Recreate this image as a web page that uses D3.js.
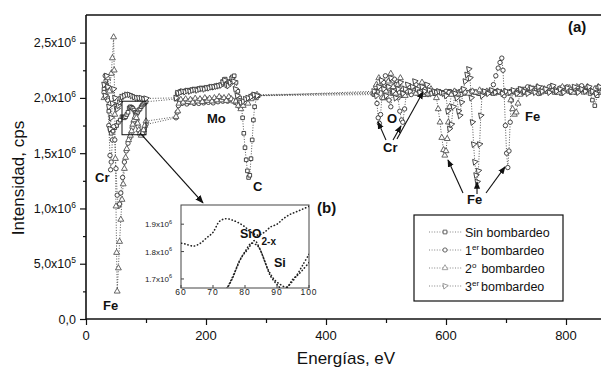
<!DOCTYPE html>
<html><head><meta charset="utf-8">
<script src="https://cdn.jsdelivr.net/npm/d3@7"></script>
<style>body{margin:0;background:#fff}svg text{font-family:"Liberation Sans",Arial,sans-serif}</style>
</head><body><svg id="c" width="601" height="368"></svg>
<script>
// Intensities in units of 10^6 cps, energies in eV
const seriesNames = ["Sin bombardeo","1er bombardeo","2o bombardeo","3er bombardeo"];
const sinBombardeo = [
[30,2.08],[33,2.15],[36,2.0],[38,1.88],[40,1.72],[42,1.68],[45,1.7],[48,1.73],[51,1.75],[54,1.78],[57,1.8],[60,1.83],[62,1.825],[64,1.82],[66,1.83],[68,1.85],[70,1.87],[72,1.91],[74,1.92],[76,1.915],[78,1.905],[80,1.89],[82,1.87],[84,1.86],[86,1.87],[88,1.89],[90,1.9],[92,1.92],[94,1.935],[96,1.945],[98,1.955],[100,1.965],
[150,1.99],[152,2.04],[155,2.05],[158,2.06],[162,2.055],[166,2.065],[170,2.07],[174,2.065],[178,2.075],[182,2.08],[186,2.075],[190,2.085],[194,2.09],[198,2.085],[202,2.095],[206,2.1],[210,2.095],[214,2.105],[218,2.11],[222,2.11],[226,2.12],[229,2.15],[232,2.17],[235,2.13],[238,2.12],[241,2.15],[244,2.19],[247,2.2],[250,2.14],[253,2.06],[256,2.0],[259,1.93],[261,1.82],[263,1.68],[265,1.55],[267,1.44],[269,1.34],[271,1.28],[273,1.3],[275,1.45],[277,1.62],[279,1.8],[281,1.92],[284,2.0],[287,2.02],
[480,2.03],[486,2.06],[492,2.1],[498,2.0],[504,2.08],[510,2.04],[516,2.12],[522,2.05],[528,2.02],[534,2.07],[540,2.05],[546,2.09],[552,2.04],[558,2.06],[564,2.03],[570,2.07],[576,2.05],[582,2.04],[588,2.06],[594,2.05],[600,2.04],[606,2.06],[612,2.05],[618,2.05],[624,2.06],[630,2.04],[636,2.05],[642,2.06],[648,2.05],[654,2.04],[660,2.05],[666,2.06],[672,2.05],[678,2.04],[684,2.06],[690,2.05],[696,2.04],[702,2.05],[708,2.06],[714,2.05],[720,2.07],[726,2.04],[732,2.08],[738,2.05],[744,2.09],[750,2.06],[756,2.04],[762,2.08],[768,2.06],[774,2.1],[780,2.05],[786,2.07],[792,2.04],[798,2.09],[804,2.06],[810,2.08],[816,2.05],[822,2.1],[828,2.07],[834,2.09],[840,2.04],[844,1.98],[848,1.93],[852,2.02],[856,2.08],[862,2.06]];
const primerBombardeo = [
[30,2.05],[32,2.2],[34,2.12],[36,1.98],[38,1.75],[40,1.48],[41,1.35],[42,1.42],[44,1.62],[46,1.74],[48,1.62],[50,1.36],[52,1.12],[54,1.02],[56,1.04],[58,1.14],[61,1.28],[64,1.42],[67,1.52],[70,1.59],[73,1.64],[75,1.68],[77,1.73],[79,1.78],[81,1.81],[83,1.84],[85,1.8],[87,1.74],[89,1.7],[91,1.68],[93,1.67],[95,1.7],[97,1.72],[100,1.76],
[150,1.82],[152,1.87],[154,1.93],[156,1.97],[160,1.95],[164,1.975],[168,1.945],[172,1.96],[176,1.98],[180,1.95],[184,1.97],[188,1.95],[192,1.98],[196,1.955],[200,1.99],[204,1.96],[208,1.98],[212,1.955],[216,1.99],[220,1.965],[224,2.0],[228,1.97],[232,1.99],[236,1.97],[240,2.0],[244,1.98],[248,1.96],[252,1.95],[256,1.92],[260,1.94],[264,1.96],[268,1.98],[272,2.0],[276,2.02],[280,2.03],[285,2.02],
[480,2.05],[483,2.1],[485,1.95],[487,1.82],[489,1.77],[491,1.85],[493,2.0],[496,2.14],[499,2.2],[502,2.1],[505,1.98],[508,1.92],[511,2.05],[514,2.17],[517,2.12],[520,2.0],[523,1.88],[526,1.8],[528,1.78],[531,1.9],[534,2.05],[538,2.1],[542,2.03],[546,2.07],[550,2.12],[554,2.04],[558,2.06],[562,2.1],[566,2.05],[570,2.03],[575,2.06],[580,2.04],[585,2.06],[590,2.05],[595,2.04],[600,2.06],[605,2.05],[610,2.04],[615,2.06],[620,2.05],[625,2.03],[630,2.06],[635,2.05],[640,2.04],[645,2.06],[650,2.05],[655,2.04],[660,2.06],[665,2.05],[670,2.06],[675,2.06],[679,2.12],[683,2.2],[687,2.27],[690,2.32],[693,2.36],[695,2.25],[697,2.02],[699,1.75],[701,1.5],[703,1.37],[705,1.52],[707,1.78],[709,1.98],[712,2.06],[718,2.05],[724,2.08],[730,2.05],[736,2.1],[742,2.06],[748,2.08],[754,2.04],[760,2.09],[766,2.06],[772,2.1],[778,2.07],[784,2.05],[790,2.09],[796,2.06],[802,2.1],[808,2.05],[814,2.08],[820,2.06],[826,2.11],[832,2.06],[838,2.08],[844,2.05],[850,2.09],[856,2.05],[862,2.08]];
const segundoBombardeo = [
[30,2.0],[33,2.12],[36,2.18],[39,2.06],[42,2.22],[44,2.36],[46,2.55],[47,2.25],[48,1.85],[49,1.45],[50,1.02],[51,0.6],[52,0.25],[54,0.46],[56,0.7],[58,0.9],[60,1.08],[62,1.22],[64,1.36],[66,1.46],[68,1.54],[71,1.62],[74,1.66],[76,1.7],[78,1.76],[80,1.8],[82,1.83],[84,1.82],[86,1.77],[88,1.71],[90,1.68],[92,1.66],[94,1.68],[96,1.71],[98,1.75],[100,1.79],
[150,1.83],[153,1.88],[155,1.95],[158,1.985],[162,1.96],[166,1.99],[170,1.965],[174,1.985],[178,1.96],[182,1.995],[186,1.97],[190,1.99],[194,1.965],[198,2.0],[202,1.975],[206,1.995],[210,1.97],[214,2.0],[218,1.98],[222,2.01],[226,1.98],[230,2.0],[234,1.975],[238,2.01],[242,1.99],[246,1.97],[250,1.97],[254,1.93],[258,1.9],[262,1.93],[266,1.96],[270,1.95],[275,1.99],[280,2.02],[285,2.03],
[480,2.04],[484,2.12],[488,2.18],[492,2.08],[496,2.0],[500,2.06],[504,2.15],[508,2.22],[512,2.1],[516,2.04],[520,2.12],[524,2.18],[528,2.08],[532,2.02],[536,2.06],[540,2.1],[545,2.06],[550,2.04],[555,2.1],[560,2.14],[565,2.08],[570,2.04],[575,2.08],[580,2.05],[584,2.0],[587,1.9],[590,1.78],[593,1.64],[596,1.53],[598,1.48],[600,1.52],[602,1.63],[604,1.78],[606,1.92],[609,2.03],[614,2.06],[620,2.04],[626,2.07],[632,2.05],[638,2.04],[644,2.06],[650,2.05],[656,2.07],[662,2.04],[668,2.06],[674,2.05],[680,2.04],[686,2.06],[692,2.05],[698,2.06],[704,2.04],[708,1.98],[711,1.9],[714,1.85],[717,1.87],[720,1.95],[723,2.03],[728,2.07],[734,2.05],[740,2.09],[746,2.06],[752,2.1],[758,2.05],[764,2.08],[770,2.06],[776,2.1],[782,2.07],[788,2.05],[794,2.1],[800,2.07],[806,2.09],[812,2.05],[818,2.1],[824,2.07],[830,2.05],[836,2.1],[842,2.06],[848,2.08],[854,2.1],[860,2.06]];
const tercerBombardeo = [
[30,2.12],[32,2.02],[34,2.2],[36,2.1],[38,1.92],[40,1.72],[42,1.82],[44,1.95],[46,2.08],[48,2.0],[50,1.92],[52,1.9],[54,1.93],[56,1.96],[58,1.99],[60,2.01],[64,2.02],[68,2.03],[72,2.03],[76,2.02],[80,2.01],[84,2.0],[88,2.0],[92,2.0],[96,1.99],[100,1.995],
[150,2.0],[153,2.045],[157,2.05],[161,2.06],[165,2.055],[169,2.065],[173,2.06],[177,2.07],[181,2.075],[185,2.07],[189,2.08],[193,2.085],[197,2.08],[201,2.09],[205,2.09],[209,2.1],[213,2.1],[217,2.105],[221,2.11],[225,2.115],[228,2.14],[231,2.16],[234,2.12],[237,2.11],[240,2.14],[243,2.17],[246,2.15],[249,2.08],[252,2.02],[255,1.98],[258,1.96],[262,1.97],[266,1.99],[270,2.0],[275,2.01],[280,2.03],[285,2.02],
[480,2.06],[484,2.02],[488,2.1],[492,2.16],[496,2.08],[500,2.02],[504,2.1],[508,2.18],[512,2.06],[516,2.0],[520,2.08],[524,2.14],[528,2.04],[532,2.08],[536,2.12],[540,2.06],[544,2.1],[548,2.15],[552,2.08],[556,2.05],[560,2.1],[564,2.06],[568,2.12],[572,2.07],[576,2.04],[580,2.06],[584,2.05],[588,2.06],[592,2.05],[596,2.04],[600,2.02],[603,1.88],[606,1.72],[609,1.76],[612,1.92],[615,2.04],[618,2.0],[621,1.88],[623,1.84],[626,1.96],[629,2.08],[632,2.15],[635,2.21],[638,2.26],[640,2.18],[642,2.0],[644,1.78],[646,1.58],[648,1.42],[650,1.3],[652,1.24],[654,1.34],[656,1.58],[658,1.84],[660,2.02],[664,2.06],[670,2.04],[676,2.07],[682,2.05],[688,2.06],[694,2.04],[700,2.06],[706,2.05],[712,2.07],[718,2.04],[724,2.08],[730,2.06],[736,2.04],[742,2.09],[748,2.05],[754,2.1],[760,2.06],[766,2.08],[772,2.05],[778,2.11],[784,2.06],[790,2.08],[796,2.05],[802,2.09],[808,2.06],[814,2.1],[820,2.05],[826,2.08],[832,2.06],[838,2.1],[844,2.06],[850,2.04],[856,2.1],[862,2.07]];

const xTickValues = [0,200,400,600,800];
const xMinorTicks = [100,300,500,700];
const yTickValues = [0,0.5,1.0,1.5,2.0,2.5];
const yTickMantissa = ["0,0","5,0x10","1,0x10","1,5x10","2,0x10","2,5x10"];
const yTickExponent = ["","5","6","6","6","6"];
const yMinorTicks = [0.25,0.75,1.25,1.75,2.25];
const insetXTicks = [60,70,80,90,100];
const insetYTicks = [1.7,1.8,1.9];
const insetYLabels = ["1.7x10","1.8x10","1.9x10"];
const annotations = [
 {t:"Cr",e:15,i:1.24},{t:"Fe",e:28.3,i:0.08},{t:"Mo",e:201.7,i:1.774},{t:"C",e:278.3,i:1.158},
 {t:"O",e:501.7,i:1.774},{t:"Cr",e:495,i:1.511},{t:"Fe",e:635,i:1.041},{t:"Fe",e:731.7,i:1.792}];
const arrows = [
 [500,1.62,486.7,1.783],[511.7,1.62,525,1.747],[518.3,1.629,561.7,2.054],
 [628.3,1.14,603.3,1.439],[651.7,1.131,651.7,1.24],[666.7,1.14,698.3,1.376]];

const svg = d3.select("#c");
const x = d3.scaleLinear().domain([0,800]).range([86,566]);
const y = d3.scaleLinear().domain([0,2.75]).range([319,15]);

svg.append("defs").html(
 '<clipPath id="plotclip"><rect x="86" y="15" width="515" height="304"/></clipPath>'+
 '<clipPath id="insetclip"><rect x="181" y="205" width="128" height="83"/></clipPath>'+
 '<marker id="ah" viewBox="0 0 10 10" refX="9" refY="5" markerWidth="7" markerHeight="7" orient="auto"><path d="M0,1L10,5L0,9z" fill="#111"/></marker>');

// axes
const gx = svg.append("g").attr("transform","translate(0,319)")
  .call(d3.axisBottom(x).tickValues(xTickValues).tickSize(6).tickSizeOuter(0).tickFormat(""));
gx.select(".domain").remove();
svg.append("g").attr("transform","translate(0,319)")
  .call(d3.axisBottom(x).tickValues(xMinorTicks).tickSize(4).tickSizeOuter(0).tickFormat(""))
  .select(".domain").remove();
svg.append("line").attr("x1",86).attr("x2",601).attr("y1",319).attr("y2",319).attr("stroke","#111").attr("stroke-width",1.6);
svg.append("line").attr("x1",86).attr("x2",601).attr("y1",15).attr("y2",15).attr("stroke","#111").attr("stroke-width",1.6);
const gy = svg.append("g").attr("transform","translate(86,0)")
  .call(d3.axisLeft(y).tickValues(yTickValues).tickSize(6).tickSizeOuter(0).tickFormat(""));
gy.select(".domain").remove();
svg.append("g").attr("transform","translate(86,0)")
  .call(d3.axisLeft(y).tickValues(yMinorTicks).tickSize(3).tickSizeOuter(0).tickFormat(""))
  .select(".domain").remove();
svg.append("line").attr("x1",86).attr("x2",86).attr("y1",15).attr("y2",320).attr("stroke","#111").attr("stroke-width",1.6);
svg.selectAll(".tick line").attr("stroke","#111").attr("stroke-width",1.2);

xTickValues.forEach(v=>{
  svg.append("text").attr("x",x(v)).attr("y",340).attr("text-anchor","middle")
   .attr("font-size",13).attr("fill","#111").text(v);
});
yTickValues.forEach((v,k)=>{
  const t = svg.append("text").attr("x",76).attr("y",y(v)+4.5).attr("text-anchor","end")
   .attr("font-size",12.5).attr("fill","#111");
  t.append("tspan").text(yTickMantissa[k]);
  if (yTickExponent[k]) t.append("tspan").attr("font-size",8.5).attr("dy",-5).text(yTickExponent[k]);
});
svg.append("text").attr("x",346).attr("y",364).attr("text-anchor","middle").attr("font-size",17).attr("fill","#111").text("Energías, eV");
svg.append("text").attr("transform","translate(24,178) rotate(-90)").attr("text-anchor","middle").attr("font-size",17).attr("fill","#111").text("Intensidad, cps");

// series
const symbols = [d3.symbolSquare, d3.symbolCircle, d3.symbolTriangle, d3.symbolTriangle];
const rot = [0,0,0,200];
const strokeCol = ["#333","#333","#555","#444"];
const allSeries = [sinBombardeo, primerBombardeo, segundoBombardeo, tercerBombardeo];
const plot = svg.append("g").attr("clip-path","url(#plotclip)");
const line = d3.line().x(d=>x(d[0])).y(d=>y(d[1]));
allSeries.forEach((s,k)=>{
  plot.append("path").attr("d",line(s)).attr("fill","none").attr("stroke","#444")
   .attr("stroke-width",0.9).attr("stroke-dasharray","1,1.6");
});
allSeries.forEach((s,k)=>{
  const sym = d3.symbol().type(symbols[k]).size(k===0?13:15);
  plot.append("g").selectAll("path").data(s).join("path")
   .attr("d",sym).attr("transform",d=>`translate(${x(d[0])},${y(d[1])}) rotate(${rot[k]})`)
   .attr("fill","#fff").attr("stroke",strokeCol[k]).attr("stroke-width",0.9);
});

// zoom box and pointer arrow
svg.append("rect").attr("x",x(60)).attr("y",y(1.97)).attr("width",x(100)-x(60)).attr("height",y(1.667)-y(1.97))
  .attr("fill","none").attr("stroke","#111").attr("stroke-width",1);
svg.append("line").attr("x1",x(90)).attr("y1",y(1.683)).attr("x2",x(195)).attr("y2",y(1.05))
  .attr("stroke","#111").attr("stroke-width",1.2).attr("marker-end","url(#ah)");

// annotations
annotations.forEach(a=>{
  svg.append("text").attr("x",x(a.e)).attr("y",y(a.i)).attr("font-size",13).attr("font-weight","bold").attr("fill","#111").text(a.t);
});
arrows.forEach(a=>{
  svg.append("line").attr("x1",x(a[0])).attr("y1",y(a[1])).attr("x2",x(a[2])).attr("y2",y(a[3]))
   .attr("stroke","#111").attr("stroke-width",1.1).attr("marker-end","url(#ah)");
});
svg.append("text").attr("x",x(803.3)).attr("y",y(2.597)).attr("font-size",15).attr("font-weight","bold").attr("fill","#111").text("(a)");
svg.append("text").attr("x",x(385)).attr("y",y(0.959)).attr("font-size",15).attr("font-weight","bold").attr("fill","#111").text("(b)");

// inset
const ix = d3.scaleLinear().domain([60,100]).range([181,309]);
const iy = d3.scaleLinear().domain([1.667,1.97]).range([288,205]);
const inset = svg.append("g");
inset.append("rect").attr("x",181).attr("y",205).attr("width",128).attr("height",83).attr("fill","#fff").attr("stroke","#444").attr("stroke-width",1);
insetXTicks.forEach(v=>{
  inset.append("line").attr("x1",ix(v)).attr("x2",ix(v)).attr("y1",288).attr("y2",285).attr("stroke","#444");
  inset.append("text").attr("x",ix(v)).attr("y",295).attr("text-anchor","middle").attr("font-size",8.5).attr("letter-spacing",1).attr("fill","#222").text(v);
});
insetYTicks.forEach((v,k)=>{
  inset.append("line").attr("x1",181).attr("x2",184).attr("y1",iy(v)).attr("y2",iy(v)).attr("stroke","#444");
  const t = inset.append("text").attr("x",172).attr("y",iy(v)+3).attr("text-anchor","end").attr("font-size",8).attr("fill","#222");
  t.append("tspan").text(insetYLabels[k]);
  t.append("tspan").attr("font-size",5.5).attr("dy",-3.5).text("6");
});
const iline = d3.line().curve(d3.curveCatmullRom).x(d=>ix(d[0])).y(d=>iy(d[1]));
const ig = inset.append("g").attr("clip-path","url(#insetclip)");
[sinBombardeo, primerBombardeo, segundoBombardeo].forEach(s=>{
  const part = s.filter(d=>d[0]>=56 && d[0]<=104);
  ig.append("path").attr("d",iline(part)).attr("fill","none").attr("stroke","#222")
   .attr("stroke-width",1.6).attr("stroke-linecap","round").attr("stroke-dasharray","0.3,3");
});
const sio = inset.append("text").attr("x",240).attr("y",238).attr("font-size",12.5).attr("font-weight","bold").attr("fill","#111");
sio.append("tspan").text("SiO");
sio.append("tspan").attr("font-size",10).attr("dy",7).text("2-x");
inset.append("text").attr("x",274).attr("y",267).attr("font-size",12.5).attr("font-weight","bold").attr("fill","#111").text("Si");

// legend
const lg = svg.append("g");
lg.append("rect").attr("x",414).attr("y",215).attr("width",149).attr("height",86).attr("fill","#fff").attr("stroke","#111").attr("stroke-width",1.2);
const legendMain = ["Sin bombardeo","1","2","3"];
const legendSup = ["","er","o","er"];
seriesNames.forEach((n,k)=>{
  const cy = 232 + k*18;
  lg.append("line").attr("x1",429).attr("x2",462).attr("y1",cy).attr("y2",cy).attr("stroke","#777").attr("stroke-width",0.9).attr("stroke-dasharray","1,1.6");
  lg.append("path").attr("d",d3.symbol().type(symbols[k]).size(14)).attr("transform",`translate(445,${cy}) rotate(${rot[k]})`)
    .attr("fill","#fff").attr("stroke",k<2?"#555":"#999").attr("stroke-width",0.9);
  const t = lg.append("text").attr("x",465).attr("y",cy+4.5).attr("font-size",12.5).attr("fill","#111");
  t.append("tspan").text(legendMain[k]);
  if (legendSup[k]) {
    t.append("tspan").attr("font-size",8).attr("dy",-4.5).text(legendSup[k]);
    t.append("tspan").attr("dy",4.5).attr("dx",k===2?5:2).text("bombardeo");
  }
});
</script></body></html>
